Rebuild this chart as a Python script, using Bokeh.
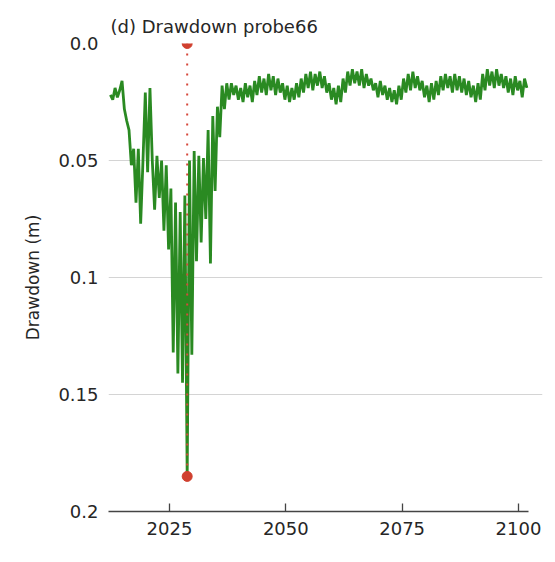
from bokeh.plotting import figure
from bokeh.models import Range1d, FixedTicker, ColumnDataSource
from bokeh.embed import file_html
from bokeh.resources import INLINE

# ---- data ----
start_year = 2012.3
step_year = 0.5
drawdown = [
    # 2012.3 - 2037.8 (early, pumping period)
    0.022, 0.024, 0.019, 0.023, 0.020, 0.016, 0.028, 0.033, 0.037, 0.052,
    0.045, 0.068, 0.045, 0.077, 0.050, 0.021, 0.055, 0.019, 0.050, 0.071,
    0.048, 0.066, 0.050, 0.080, 0.052, 0.088, 0.062, 0.132, 0.068, 0.141,
    0.072, 0.145, 0.065, 0.185, 0.050, 0.133, 0.046, 0.093, 0.048, 0.085,
    0.049, 0.075, 0.037, 0.094, 0.031, 0.063, 0.027, 0.040, 0.018, 0.028,
    0.017, 0.024,
    # 2038 - 2101 (recovery, seasonal)
    0.017, 0.022, 0.018, 0.024, 0.019, 0.025, 0.017, 0.023, 0.018, 0.025,
    0.016, 0.022, 0.014, 0.021, 0.015, 0.022, 0.013, 0.020, 0.014, 0.022,
    0.015, 0.021, 0.017, 0.024, 0.018, 0.025, 0.019, 0.024, 0.017, 0.023,
    0.015, 0.021, 0.013, 0.019, 0.012, 0.020, 0.013, 0.018, 0.012, 0.019,
    0.014, 0.021, 0.017, 0.024, 0.019, 0.026, 0.018, 0.025, 0.015, 0.021,
    0.012, 0.018, 0.011, 0.017, 0.012, 0.018, 0.011, 0.019, 0.013, 0.018,
    0.015, 0.020, 0.017, 0.023, 0.016, 0.022, 0.018, 0.024, 0.019, 0.025,
    0.020, 0.026, 0.018, 0.024, 0.015, 0.021, 0.013, 0.020, 0.012, 0.019,
    0.014, 0.020, 0.016, 0.023, 0.018, 0.025, 0.017, 0.024, 0.016, 0.022,
    0.014, 0.020, 0.013, 0.019, 0.014, 0.021, 0.013, 0.020, 0.014, 0.021,
    0.015, 0.022, 0.016, 0.023, 0.018, 0.025, 0.017, 0.024, 0.013, 0.020,
    0.011, 0.018, 0.012, 0.019, 0.011, 0.018, 0.013, 0.019, 0.014, 0.021,
    0.015, 0.022, 0.014, 0.020, 0.016, 0.023, 0.015, 0.019,
]
years = [start_year + step_year * i for i in range(len(drawdown))]

max_year = 2028.8
max_drawdown = 0.185

x_ticks = [2025, 2050, 2075, 2100]
y_ticks = [0.0, 0.05, 0.1, 0.15, 0.2]
y_tick_labels = ["0.0", "0.05", "0.1", "0.15", "0.2"]

title_text = "(d) Drawdown probe66"
y_label = "Drawdown (m)"

FONT = "DejaVu Sans"
TXT = "#262626"

p = figure(
    width=555, height=562,
    x_range=Range1d(2011.89, 2105.16),
    y_range=Range1d(0.2, 0.0),
    output_backend="svg", toolbar_location=None,
    min_border_left=108, min_border_right=13,
    min_border_top=43, min_border_bottom=51,
)
p.outline_line_color = None
p.background_fill_color = "white"
p.border_fill_color = "white"

p.title.text = title_text
p.title.align = "left"
p.title.text_font = FONT
p.title.text_font_size = "18px"
p.title.text_font_style = "normal"
p.title.text_color = TXT
p.title.standoff = 13
p.title.offset = 2

# x axis
xa = p.xaxis[0]
xa.ticker = FixedTicker(ticks=x_ticks)
xa.bounds = (2011.89, 2102.2)
xa.axis_line_color = "#444444"
xa.axis_line_width = 1.6
xa.major_tick_in = 8
xa.major_tick_out = 0
xa.major_tick_line_color = "#444444"
xa.major_tick_line_width = 1.3
xa.minor_tick_line_color = None
xa.major_label_text_font = FONT
xa.major_label_text_font_size = "18px"
xa.major_label_text_color = TXT
xa.major_label_standoff = 10

# y axis
ya = p.yaxis[0]
ya.ticker = FixedTicker(ticks=y_ticks)
ya.major_label_overrides = {t: l for t, l in zip(y_ticks, y_tick_labels)}
ya.axis_line_color = None
ya.major_tick_line_color = None
ya.minor_tick_line_color = None
ya.major_tick_in = 0
ya.major_tick_out = 0
ya.major_label_text_font = FONT
ya.major_label_text_font_size = "18px"
ya.major_label_text_color = TXT
ya.major_label_standoff = 10
ya.axis_label = y_label
ya.axis_label_text_font = FONT
ya.axis_label_text_font_size = "17px"
ya.axis_label_text_font_style = "normal"
ya.axis_label_text_color = TXT
ya.axis_label_standoff = 12

p.xgrid.grid_line_color = None
p.ygrid.ticker = FixedTicker(ticks=y_ticks)
p.ygrid.grid_line_color = "#d4d4d4"
p.ygrid.grid_line_width = 1.2

src = ColumnDataSource(dict(year=years, dd=drawdown))
p.line("year", "dd", source=src, line_color="#2a8a22", line_width=2.8)

p.segment(x0=[max_year], y0=[0.0], x1=[max_year], y1=[max_drawdown],
          line_color="#d6473a", line_width=2, line_dash="2 8")
p.scatter(x=[max_year, max_year], y=[0.0, max_drawdown], size=10,
          fill_color="#d0402f", line_color="#d0402f")

open("out.html", "w").write(file_html(p, INLINE))
